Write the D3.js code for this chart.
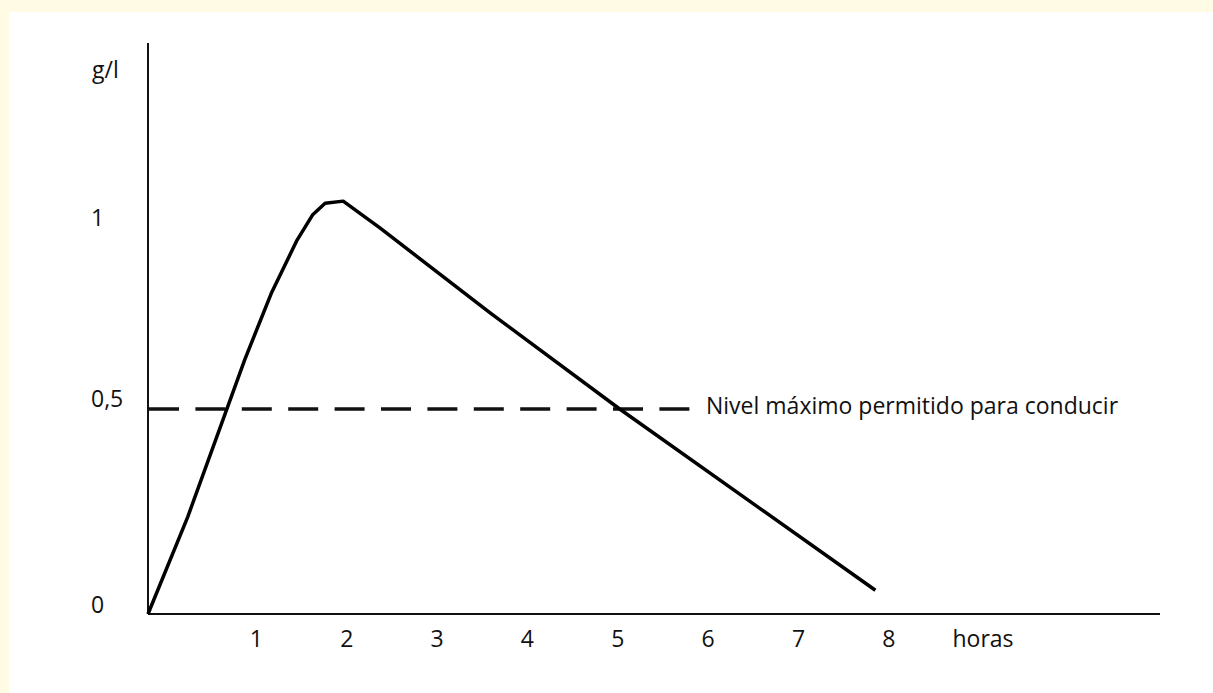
<!DOCTYPE html>
<html>
<head>
<meta charset="utf-8">
<script src="https://cdn.jsdelivr.net/npm/d3@7"></script>
<style>
body { margin: 0; background: #fffbe4; }
svg text { font-family: "Open Sans", "Noto Sans", sans-serif; font-size: 23px; fill: #111; }
</style>
</head>
<body>
<svg id="chart"></svg>
<script>
var w = 1213;
var h = 693;

// hours after drinking, blood alcohol g/l
var hours  = [0, 0.44, 1.07, 1.37, 1.65, 1.82, 1.96, 2.16, 2.57, 3.79, 5.22, 8.05];
var alcohol = [0, 0.237, 0.62, 0.785, 0.912, 0.973, 1.002, 1.007, 0.941, 0.734, 0.5, 0.058];
var xTicks = [1, 2, 3, 4, 5, 6, 7, 8];
var yTicks = [0, 0.5, 1];
var yTickLabels = ["0", "0,5", "1"];
var limit = 0.5;
var limitLabel = "Nivel máximo permitido para conducir";

var svg = d3.select("#chart")
    .attr("width", w)
    .attr("height", h);

svg.append("rect")
    .attr("x", 9)
    .attr("y", 12)
    .attr("width", w - 9)
    .attr("height", h - 12)
    .attr("fill", "#fff");

var x = d3.scaleLinear().domain([0, 11.2]).range([148, 1160]);
var y = d3.scaleLinear().domain([0, 1]).range([614, 204]);

// axes
svg.append("line")
    .attr("x1", x(0)).attr("y1", 43)
    .attr("x2", x(0)).attr("y2", y(0))
    .attr("stroke", "#111").attr("stroke-width", 2);
svg.append("line")
    .attr("x1", x(0)).attr("y1", y(0))
    .attr("x2", x(11.2)).attr("y2", y(0))
    .attr("stroke", "#111").attr("stroke-width", 2);

svg.selectAll(".xlab")
    .data(xTicks)
    .enter().append("text")
    .attr("class", "xlab")
    .attr("x", function(d){ return x(d) + 18; })
    .attr("y", 647)
    .attr("text-anchor", "middle")
    .text(function(d){ return d; });

svg.append("text")
    .attr("x", 983)
    .attr("y", 647)
    .attr("text-anchor", "middle")
    .text("horas");

svg.selectAll(".ylab")
    .data(yTicks)
    .enter().append("text")
    .attr("class", "ylab")
    .attr("x", 91)
    .attr("y", function(d, i){ return y(d) + (d == 1 ? 22 : (d == 0 ? -1 : -2)); })
    .text(function(d, i){ return yTickLabels[i]; });

svg.append("text")
    .attr("x", 92)
    .attr("y", 78)
    .text("g/l");

// limit line
svg.append("line")
    .attr("x1", x(0) + 1).attr("y1", y(limit))
    .attr("x2", 690).attr("y2", y(limit))
    .attr("stroke", "#111")
    .attr("stroke-width", 3.5)
    .attr("stroke-dasharray", "30,16.4");

svg.append("text")
    .attr("x", 706)
    .attr("y", y(limit) + 5)
    .text(limitLabel);

// curve
var line = d3.line()
    .x(function(d){ return x(d[0]); })
    .y(function(d){ return y(d[1]); });

svg.append("path")
    .datum(d3.zip(hours, alcohol))
    .attr("d", line)
    .attr("fill", "none")
    .attr("stroke", "#000")
    .attr("stroke-width", 3.5)
    .attr("stroke-linejoin", "round");
</script>
</body>
</html>
